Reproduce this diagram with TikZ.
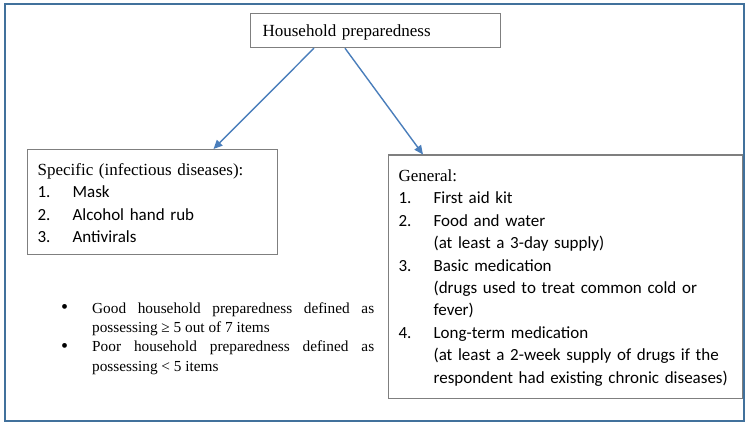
\documentclass[tikz,border=0pt]{standalone}
\usepackage{fontspec}
\setmainfont{Liberation Serif}
\newfontfamily\calfont{Carlito}
\usetikzlibrary{arrows.meta,calc}
\definecolor{framecol}{HTML}{41719C}
\definecolor{arrowcol}{HTML}{4A7EBB}
\definecolor{boxcol}{HTML}{7F7F7F}
\newcommand{\notebullet}{\makebox[32pt][l]{\hspace*{1pt}\fontsize{20}{19.5}\selectfont\raisebox{-0.5pt}{•}}}
\begin{document}
\begin{tikzpicture}[x=1pt,y=-1pt,
  boxnode/.style={draw=boxcol,line width=1.2pt,rectangle,inner ysep=0pt,align=left,
    font=\fontsize{17}{22.4}\selectfont},
  linkarrow/.style={draw=arrowcol,line width=1.4pt,-{Triangle[length=9pt,width=8pt]}},
  notetext/.style={inner sep=0pt,text width=314pt,align=justify,
    font=\fontsize{15.3}{19.5}\selectfont}
]
\useasboundingbox (0,0) rectangle (748,425);
\draw[framecol,line width=2pt] (4.5,4.5) rectangle (743.5,420.5);

\node[boxnode,anchor=north west,inner xsep=12pt,text width=226pt,
  text height=23pt,text depth=11pt] (top) at (250,13) {Household preparedness};

\node[boxnode,anchor=north west,inner xsep=10.5pt,text width=229pt,
  text height=26pt,text depth=79pt] (spec) at (26.5,149)
  {Specific (infectious diseases):\\
   \calfont\makebox[35pt][l]{1.}Mask\\
   \makebox[35pt][l]{2.}Alcohol hand rub\\
   \makebox[35pt][l]{3.}Antivirals};

\node[boxnode,anchor=north west,inner xsep=10pt,text width=334pt,
  text height=26.5pt,text depth=216.5pt] (gen) at (388,154.5)
  {General:\\
   \calfont\makebox[35pt][l]{1.}First aid kit\\
   \makebox[35pt][l]{2.}Food and water\\
   \hspace*{35pt}(at least a 3-day supply)\\
   \makebox[35pt][l]{3.}Basic medication\\
   \hspace*{35pt}(drugs used to treat common cold or\\
   \hspace*{35pt}fever)\\
   \makebox[35pt][l]{4.}Long-term medication\\
   \hspace*{35pt}(at least a 2-week supply of drugs if the\\
   \hspace*{35pt}respondent had existing chronic diseases)};

\node[notetext,anchor=base west] (note) at (60,313)
  {\hyphenpenalty=10000
   \hangindent=32pt\hangafter=1\notebullet Good household preparedness defined as\linebreak possessing ≥ 5 out of 7 items\par
   \hangindent=32pt\hangafter=1\notebullet Poor household preparedness defined as\linebreak possessing < 5 items\par};

\draw[linkarrow] ($(top.south west)+(64,0)$) -- ($(spec.north west)+(187,0)$);
\draw[linkarrow] ($(top.south west)+(95,0)$) -- ($(gen.north west)+(35,0)$);
\end{tikzpicture}
\end{document}
